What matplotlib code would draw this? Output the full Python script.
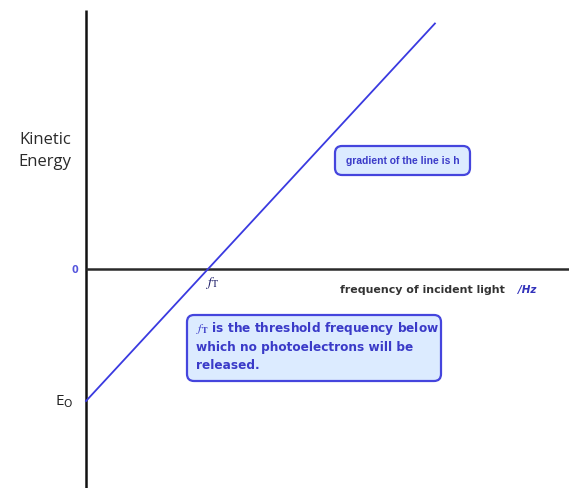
import matplotlib
matplotlib.use("Agg")
import matplotlib.pyplot as plt
from matplotlib.patches import FancyBboxPatch

# Photoelectric effect: kinetic energy of emitted electrons vs. light frequency
# (units scaled so the threshold frequency is 1 and the work function is 1)
threshold_freq = 1.0
work_function = 1.0
planck_gradient = work_function / threshold_freq
freq = [0.0, 2.86]
kinetic = [planck_gradient * f - work_function for f in freq]

W, H = 569, 488
fig = plt.figure(figsize=(W / 100, H / 100), dpi=100)
ax = fig.add_axes([0, 0, 1, 1])
ax.set_axis_off()
ax.set_xlim(-0.705, 3.959)
ax.set_ylim(-1.659, 2.038)


def at(x, y):
    """Pixel position (from top-left) to axes fraction."""
    return x / W, 1 - y / H


# axes drawn as plain lines through the origin
ax.plot([0, 0], [-1.659, 1.962], color="#111111", lw=1.8, solid_capstyle="butt", zorder=2)
ax.plot([0, 3.959], [0, 0], color="#2a2a2a", lw=1.8, solid_capstyle="butt", zorder=2)

# KE = h f - W
ax.plot(freq, kinetic, color="#3a3ae0", lw=1.3, zorder=3)

# axis labels
ax.text(*at(45, 151), "Kinetic\nEnergy", transform=ax.transAxes, ha="center", va="center",
        fontsize=12, family="Open Sans", color="#2a2a2a", linespacing=1.45)
ax.text(*at(75, 270), "0", transform=ax.transAxes, ha="center", va="center",
        fontsize=7, fontweight="bold", family="DejaVu Sans", color="#5555dd")
ax.text(*at(64, 402), r"E$_{\mathsf{O}}$", transform=ax.transAxes, ha="center", va="center",
        fontsize=11, family="Open Sans", color="#222222")
ax.text(*at(212, 283), r"$\mathbf{\mathit{f}}_{\mathrm{T}}$", transform=ax.transAxes,
        ha="center", va="center", fontsize=10, color="#1a1a66", math_fontfamily="stix")
ax.text(*at(340, 290), "frequency of incident light", transform=ax.transAxes, ha="left", va="center",
        fontsize=7.9, fontweight="bold", family="DejaVu Sans", color="#333333")
ax.text(*at(518, 290), "/Hz", transform=ax.transAxes, ha="left", va="center",
        fontsize=7.5, fontweight="bold", style="italic", family="DejaVu Sans", color="#3333bb")

# annotation boxes (drawn in inches so corners stay round)
box_face = "#dcebff"
box_edge = "#4545dd"
text_col = "#3a3ac8"


def rounded_box(x0, y0, x1, y1):
    patch = FancyBboxPatch((x0 / 100, (H - y1) / 100), (x1 - x0) / 100, (y1 - y0) / 100,
                           boxstyle="round,pad=0,rounding_size=0.07",
                           transform=fig.dpi_scale_trans, facecolor=box_face,
                           edgecolor=box_edge, lw=1.6, zorder=4)
    fig.add_artist(patch)


rounded_box(335, 146, 470, 175)
fig.text(*at(346, 160.5), "gradient of the line is h", ha="left", va="center",
         fontsize=7.4, fontweight="bold", family="Liberation Sans", color=text_col, zorder=5)

rounded_box(187, 315, 441, 381)
fig.text(*at(196, 346), r"$\mathbf{\mathit{f}}_{\mathbf{T}}$ is the threshold frequency below" "\n"
         "which no photoelectrons will be\nreleased.",
         ha="left", va="center", fontsize=8.7, fontweight="bold", family="DejaVu Sans",
         color=text_col, linespacing=1.45, zorder=5, math_fontfamily="stix")

fig.savefig("out.png", dpi=100, facecolor="white")
